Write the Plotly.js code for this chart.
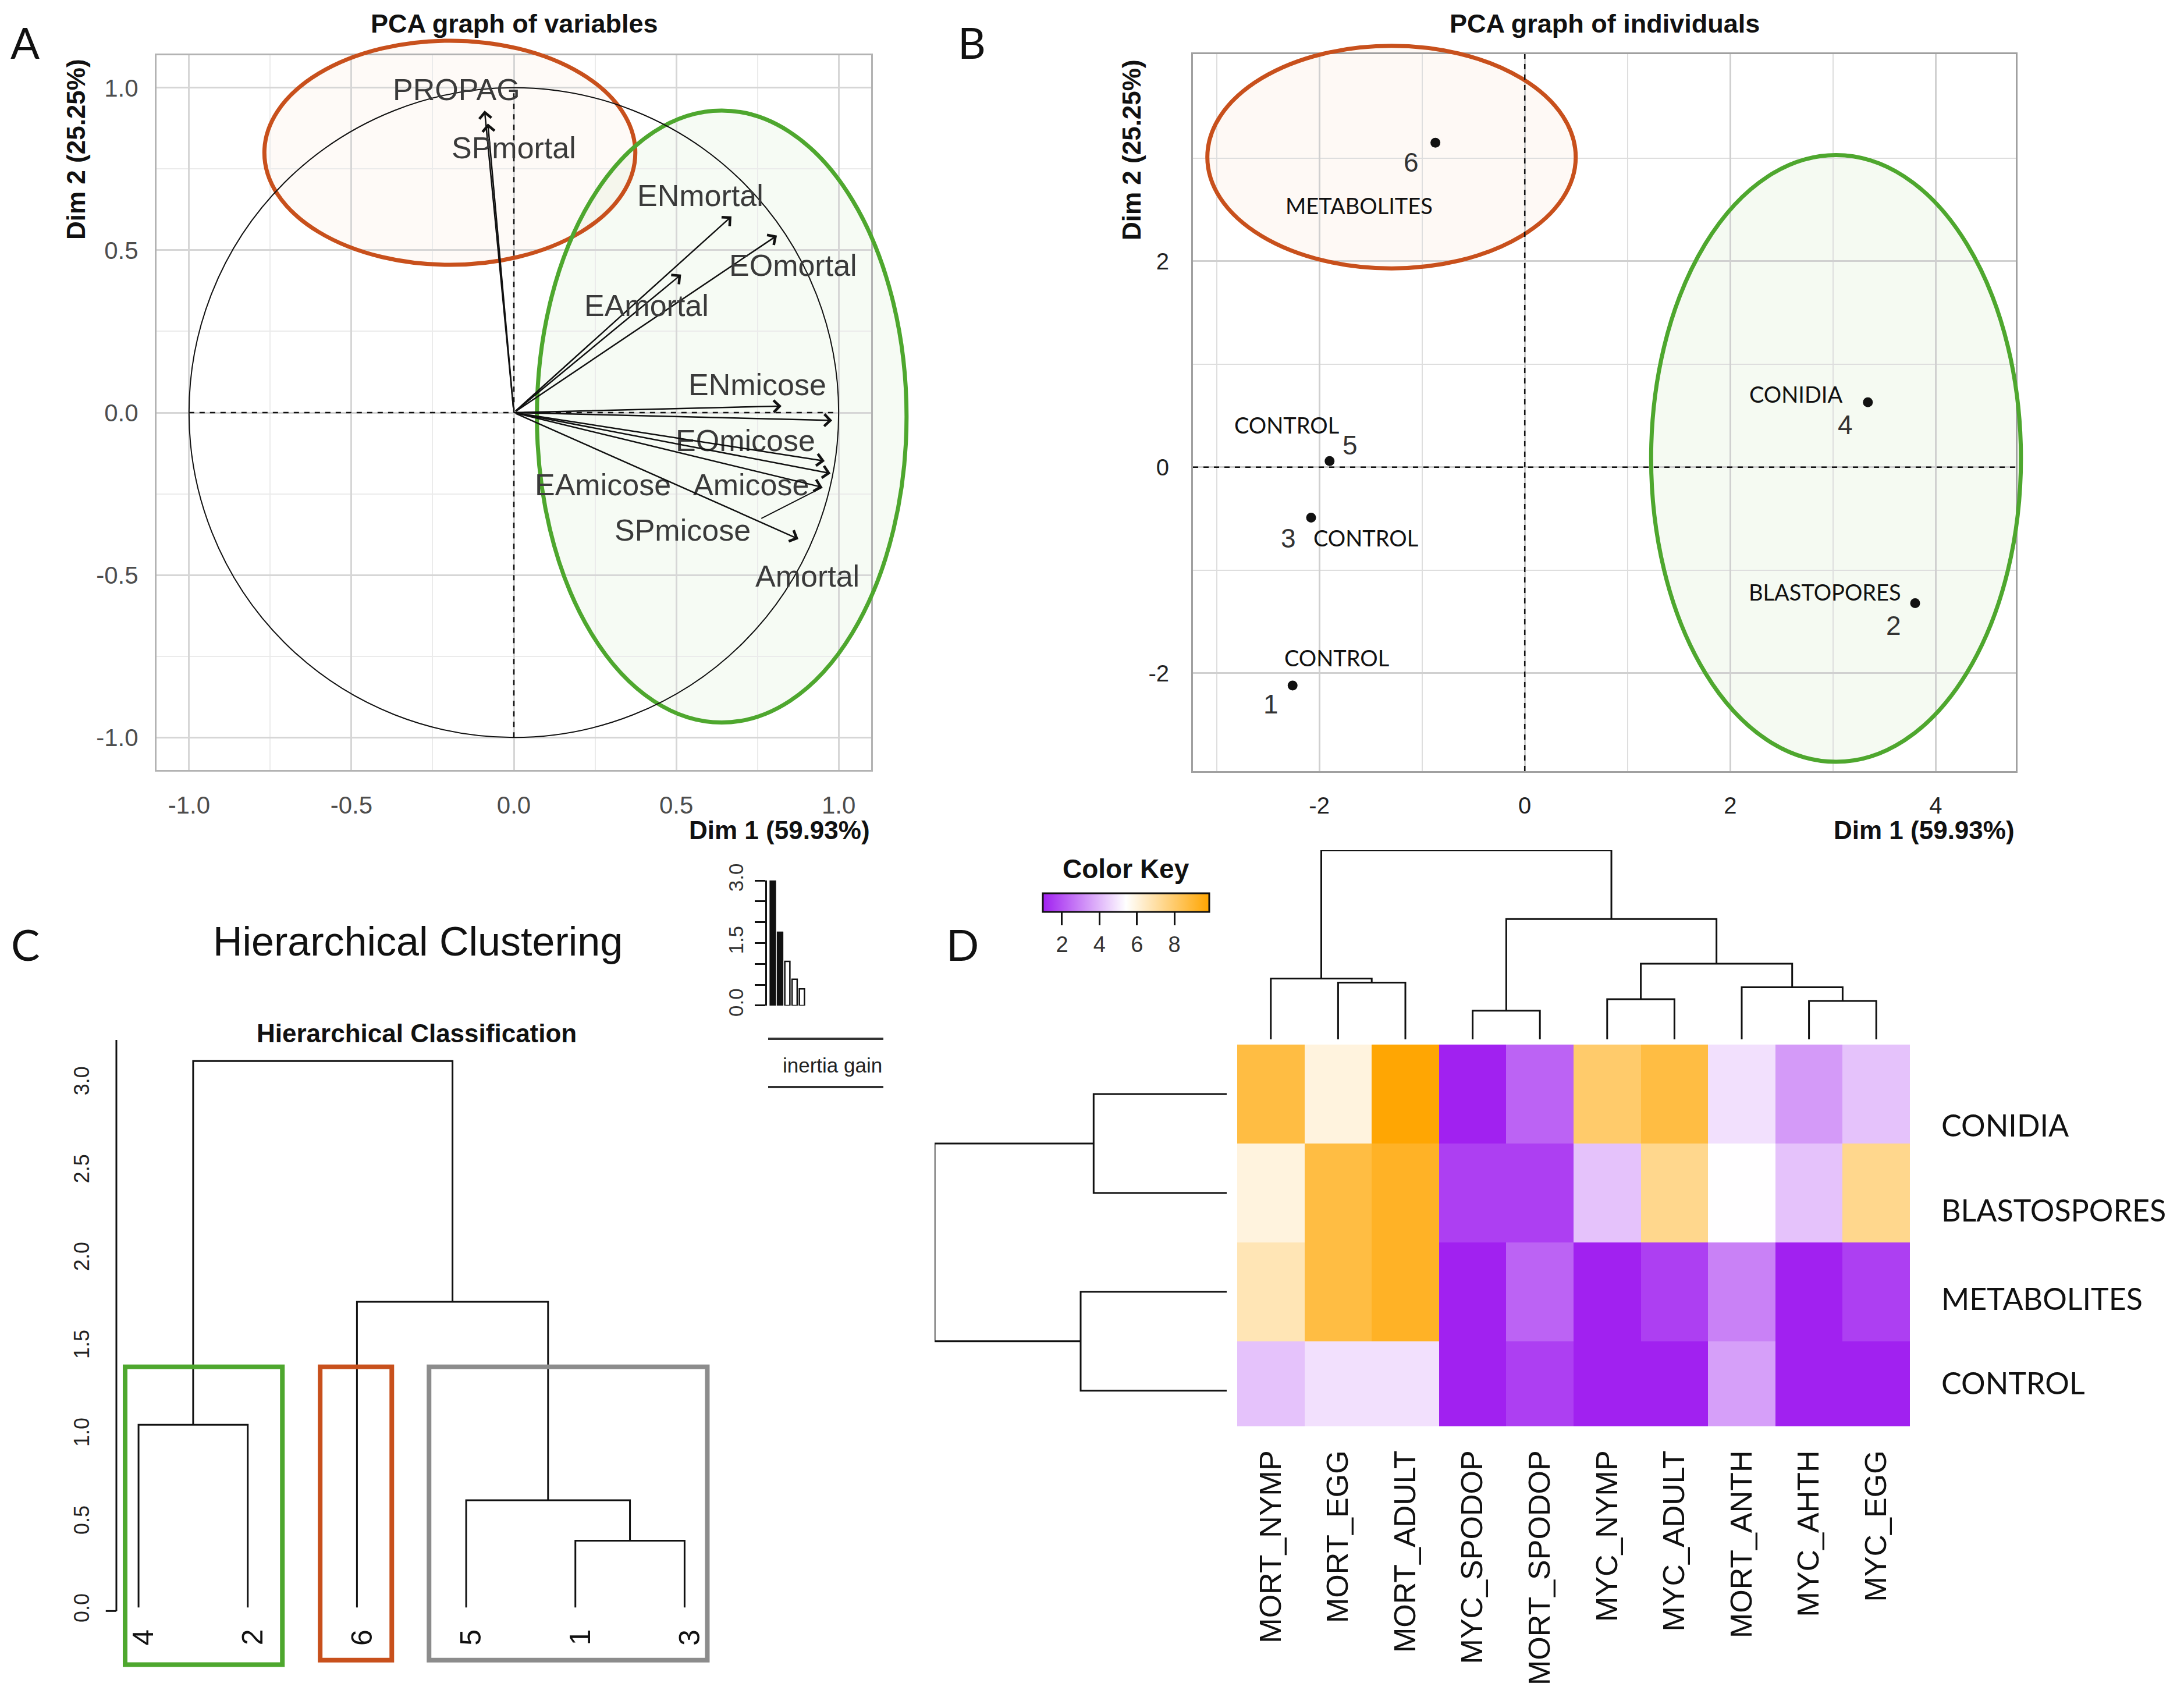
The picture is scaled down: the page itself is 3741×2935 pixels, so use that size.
<!DOCTYPE html>
<html><head><meta charset="utf-8">
<script src="https://cdn.plot.ly/plotly-3.0.1.min.js"></script>
<style>html,body{margin:0;padding:0;background:#fff}#chart{width:3741px;height:2935px}</style>
</head><body><div id="chart"></div>
<script>
// ================= DATA =================
// Panel A : PCA variables (coordinates on Dim 1 / Dim 2)
const varNames = ['PROPAG','SPmortal','ENmortal','EOmortal','EAmortal','ENmicose','EOmicose','EAmicose','Amicose','SPmicose','Amortal'];
const varDim1  = [-0.09, -0.08, 0.67, 0.81, 0.515, 0.824, 0.98, 0.957, 0.975, 0.95, 0.876];
const varDim2  = [0.93, 0.89, 0.604, 0.545, 0.425, 0.02, -0.024, -0.149, -0.187, -0.23, -0.389];
const tickA = [-1.0, -0.5, 0.0, 0.5, 1.0];
const tickALabels = ['-1.0', '-0.5', '0.0', '0.5', '1.0'];

// Panel B : PCA individuals
const indNames = ['1','2','3','4','5','6'];
const indDim1  = [-2.26, 3.80, -2.08, 3.34, -1.90, -0.87];
const indDim2  = [-2.12, -1.32, -0.49, 0.63, 0.06, 3.15];
const indGroup = ['CONTROL','BLASTOPORES','CONTROL','CONIDIA','CONTROL','METABOLITES'];
const tickBx = [-2, 0, 2, 4];
const tickBxLabels = ['-2', '0', '2', '4'];
const tickBy = [-2, 0, 2];
const tickByLabels = ['-2', '0', '2'];

// Panel C : hierarchical clustering (leaf order, merges as node indices, heights)
const leafOrder = ['4','2','6','5','1','3'];
const mergeLeft   = [4, 3, 0, 2, 8];
const mergeRight  = [5, 6, 1, 7, 9];
const mergeHeight = [0.40, 0.63, 1.06, 1.76, 3.13];
const inertiaGain = [3.13, 1.76, 1.06, 0.63, 0.40];
const tickC = [0, 0.5, 1.0, 1.5, 2.0, 2.5, 3.0];
const tickCLabels = ['0.0','0.5','1.0','1.5','2.0','2.5','3.0'];
const tickInertia = [0, 0.5, 1.0, 1.5, 2.0, 2.5, 3.0];
const tickInertiaLabels = ['0.0','','','1.5','','','3.0'];

// Panel D : heatmap
const heatCols = ['MORT_NYMP','MORT_EGG','MORT_ADULT','MYC_SPODOP','MORT_SPODOP','MYC_NYMP','MYC_ADULT','MORT_ANTH','MYC_AHTH','MYC_EGG'];
const heatRows = ['CONIDIA','BLASTOSPORES','METABOLITES','CONTROL'];
const heatConidia      = [8.7, 6.0, 9.8, 1.0, 2.3, 8.0, 8.7, 4.8, 3.4, 4.2];
const heatBlastospores = [6.0, 8.7, 9.2, 1.6, 1.6, 4.2, 7.4, 5.4, 4.2, 7.4];
const heatMetabolites  = [6.7, 8.7, 9.2, 1.0, 2.3, 1.0, 1.6, 2.9, 1.0, 1.6];
const heatControl      = [4.2, 4.8, 4.8, 1.0, 1.6, 1.0, 1.0, 3.5, 1.0, 1.0];
const colMergeLeft   = [1, 0, 3, 5, 8, 7, 13, 12, 11];
const colMergeRight  = [2, 10, 4, 6, 9, 14, 15, 16, 17];
const colMergeHeight = [99, 106, 50, 70, 67, 91, 132, 210, 330];
const rowMergeLeft   = [0, 2, 4];
const rowMergeRight  = [1, 3, 5];
const rowMergeHeight = [164, 180, 360];
const keyTicks = [2, 4, 6, 8];

// ================= STYLE / LAYOUT =================
const W = 3741, H = 2935;
const ARIAL = 'Liberation Sans, Arial, sans-serif';
const CAL = 'Lato, Open Sans, sans-serif';
const px = v => v / W, py = v => 1 - v / H;

const dom = {
  A: {x:[px(269), px(1497)], y:[py(1323), py(95)], rx:[-1.1, 1.1], ry:[-1.1, 1.1]},
  B: {x:[px(2050), px(3464)], y:[py(1325), py(93)], rx:[-3.23, 4.78], ry:[-2.95, 4.01]}
};
function toPaper(d, x, y) {
  return [d.x[0] + (x - d.rx[0]) / (d.rx[1] - d.rx[0]) * (d.x[1] - d.x[0]),
          d.y[0] + (y - d.ry[0]) / (d.ry[1] - d.ry[0]) * (d.y[1] - d.y[0])];
}

// label offsets (pixels) relative to the arrow head / point / row
const varLabelShift = [[-48,36],[45,-42],[-53,36],[28,-51],[-59,-53],[-41,37],[-149,-35],[-381,-41],[-137,-20],[-240,-74],[16,-64]];
const numShift = [[-37,-32],[-37,-39],[-39,-35],[-39,-39],[35,27],[-42,-34]];
const groupShift = [[76,48],[-155,19],[94,-34],[-124,14],[-74,62],[-131,-108]];
const rowLabelShift = [-53, -29, -11, 14];

function dendro(n, L, R, Hh, leafH) {
  const pos = [], ht = [], xs = [], ys = [];
  for (let i = 0; i < n; i++) { pos.push(i); ht.push(leafH); }
  for (let k = 0; k < L.length; k++) {
    const a = L[k], b = R[k], h = Hh[k];
    xs.push(pos[a], pos[a], pos[b], pos[b], null);
    ys.push(ht[a], h, h, ht[b], null);
    pos.push((pos[a] + pos[b]) / 2); ht.push(h);
  }
  return {xs, ys};
}

const traces = [];
const shapes = [];
const annotations = [];

// ---------- Panel A ----------
function ellipse(d, cx, cy, rx, ry, color, fill) {
  const p0 = toPaper(d, cx - rx, cy - ry), p1 = toPaper(d, cx + rx, cy + ry);
  shapes.push({type:'circle', xref:'paper', yref:'paper', x0:p0[0], x1:p1[0], y0:p0[1], y1:p1[1],
    fillcolor:fill, line:{width:0}, layer:'below'});
  shapes.push({type:'circle', xref:'paper', yref:'paper', x0:p0[0], x1:p1[0], y0:p0[1], y1:p1[1],
    line:{color:color, width:7}, layer:'above'});
}
ellipse(dom.A, -0.197, 0.80, 0.571, 0.345, '#c8501c', 'rgba(240,150,90,0.05)');
ellipse(dom.A, 0.64, -0.012, 0.569, 0.942, '#4ea72e', 'rgba(110,185,70,0.06)');
shapes.push({type:'circle', xref:'x', yref:'y', x0:-1, x1:1, y0:-1, y1:1, line:{color:'#111', width:2}});
shapes.push({type:'line', xref:'x', yref:'y', x0:-1, x1:1, y0:0, y1:0, line:{color:'#111', width:2.5, dash:'dash'}});
shapes.push({type:'line', xref:'x', yref:'y', x0:0, x1:0, y0:-1, y1:1, line:{color:'#111', width:2.5, dash:'dash'}});

varNames.forEach((nm, i) => {
  annotations.push({xref:'x', yref:'y', axref:'x', ayref:'y', x:varDim1[i], y:varDim2[i], ax:0, ay:0,
    text:' ', showarrow:true, arrowhead:4, arrowsize:1.6, arrowwidth:2.5, arrowcolor:'#111', standoff:0});
  annotations.push({xref:'x', yref:'y', x:varDim1[i], y:varDim2[i], text:nm, showarrow:false,
    xshift:varLabelShift[i][0], yshift:varLabelShift[i][1], font:{family:ARIAL, size:52, color:'#3a3a3a'}});
});
// connector segment for SPmicose label
annotations.push({xref:'x', yref:'y', x:varDim1[9], y:varDim2[9], ax:-108, ay:55, text:' ',
  showarrow:true, arrowhead:0, arrowwidth:2, arrowcolor:'#111', standoff:0});
traces.push({type:'scatter', mode:'markers', x:varDim1, y:varDim2, marker:{size:1, opacity:0}, hoverinfo:'skip', xaxis:'x', yaxis:'y'});

annotations.push({xref:'paper', yref:'paper', x:px(883), y:py(41), text:'<b>PCA graph of variables</b>', showarrow:false, font:{family:ARIAL, size:45, color:'#111'}});
annotations.push({xref:'paper', yref:'paper', x:px(1497), y:py(1427), xanchor:'right', text:'<b>Dim 1 (59.93%)</b>', showarrow:false, font:{family:ARIAL, size:44, color:'#111'}});
annotations.push({xref:'paper', yref:'paper', x:px(131), y:py(257), textangle:-90, text:'<b>Dim 2 (25.25%)</b>', showarrow:false, font:{family:ARIAL, size:44, color:'#111'}});

// ---------- Panel B ----------
ellipse(dom.B, -1.297, 3.01, 1.793, 1.08, '#c8501c', 'rgba(240,150,90,0.06)');
ellipse(dom.B, 3.03, 0.085, 1.80, 2.945, '#4ea72e', 'rgba(110,185,70,0.07)');
shapes.push({type:'line', xref:'x2 domain', yref:'y2', x0:0, x1:1, y0:0, y1:0, line:{color:'#111', width:2.5, dash:'dash'}});
shapes.push({type:'line', xref:'x2', yref:'y2 domain', x0:0, x1:0, y0:0, y1:1, line:{color:'#111', width:2.5, dash:'dash'}});
traces.push({type:'scatter', mode:'markers', x:indDim1, y:indDim2, text:indNames, marker:{size:17, color:'#111'},
  hoverinfo:'text', xaxis:'x2', yaxis:'y2'});
indNames.forEach((nm, i) => {
  annotations.push({xref:'x2', yref:'y2', x:indDim1[i], y:indDim2[i], text:nm, showarrow:false,
    xshift:numShift[i][0], yshift:numShift[i][1], font:{family:ARIAL, size:46, color:'#333'}});
  annotations.push({xref:'x2', yref:'y2', x:indDim1[i], y:indDim2[i], text:indGroup[i], showarrow:false,
    xshift:groupShift[i][0], yshift:groupShift[i][1], font:{family:CAL, size:38, color:'#111'}});
});
annotations.push({xref:'paper', yref:'paper', x:px(2757), y:py(41), text:'<b>PCA graph of individuals</b>', showarrow:false, font:{family:ARIAL, size:45, color:'#111'}});
annotations.push({xref:'paper', yref:'paper', x:px(3464), y:py(1427), xanchor:'right', text:'<b>Dim 1 (59.93%)</b>', showarrow:false, font:{family:ARIAL, size:44, color:'#111'}});
annotations.push({xref:'paper', yref:'paper', x:px(1945), y:py(257), textangle:-90, text:'<b>Dim 2 (25.25%)</b>', showarrow:false, font:{family:ARIAL, size:44, color:'#111'}});

// ---------- Panel C ----------
const dC = dendro(leafOrder.length, mergeLeft, mergeRight, mergeHeight, 0.02);
traces.push({type:'scatter', mode:'lines', x:dC.xs.map(v => v === null ? null : v + 1), y:dC.ys,
  line:{color:'#111', width:3}, hoverinfo:'skip', xaxis:'x3', yaxis:'y3'});
leafOrder.forEach((nm, i) => {
  annotations.push({xref:'x3', yref:'y3', x:i + 1, y:-0.15, text:nm, textangle:-90, showarrow:false,
    xshift:8, font:{family:ARIAL, size:50, color:'#111'}});
});
const rectsC = [[0.877, 2.317, -0.305, 1.39, '#4ea72e'], [2.663, 3.319, -0.28, 1.39, '#c8501c'], [3.66, 6.208, -0.28, 1.39, '#8c8c8c']];
rectsC.forEach(r => shapes.push({type:'rect', xref:'x3', yref:'y3', x0:r[0], x1:r[1], y0:r[2], y1:r[3], line:{color:r[4], width:8}}));
shapes.push({type:'line', xref:'x3', yref:'y3', x0:0.797, x1:0.797, y0:0, y1:3.25, line:{color:'#111', width:3}});
shapes.push({type:'line', xref:'x3', yref:'y3', x0:0.70, x1:0.797, y0:0, y1:0, line:{color:'#111', width:3}});
annotations.push({xref:'paper', yref:'paper', x:px(716), y:py(1775), text:'<b>Hierarchical Classification</b>', showarrow:false, font:{family:ARIAL, size:44, color:'#111'}});
annotations.push({xref:'paper', yref:'paper', x:px(718), y:py(1618), text:'Hierarchical Clustering', showarrow:false, font:{family:ARIAL, size:70, color:'#111'}});

traces.push({type:'bar', x:[1,2,3,4,5], y:inertiaGain, width:0.7, cliponaxis:false,
  marker:{color:['#111','#111','#fff','#fff','#fff'], line:{color:'#111', width:2.5}},
  hoverinfo:'y', xaxis:'x4', yaxis:'y4'});
shapes.push({type:'line', xref:'paper', yref:'paper', x0:px(1320), x1:px(1518), y0:py(1785), y1:py(1785), line:{color:'#333', width:4}});
shapes.push({type:'line', xref:'paper', yref:'paper', x0:px(1320), x1:px(1518), y0:py(1868), y1:py(1868), line:{color:'#333', width:4}});
annotations.push({xref:'paper', yref:'paper', x:px(1430), y:py(1830), text:'inertia gain', showarrow:false, font:{family:ARIAL, size:35, color:'#222'}});

// ---------- Panel D ----------
traces.push({type:'heatmap', z:[heatConidia, heatBlastospores, heatMetabolites, heatControl],
  x:heatCols.map((c, i) => i), y:heatRows.map((r, i) => i),
  colorscale:[[0, '#A020F0'], [0.5, '#FFFFFF'], [1, '#FFA500']], zmin:0.975, zmax:9.86,
  xaxis:'x5', yaxis:'y5', hoverinfo:'z',
  colorbar:{orientation:'h', x:px(1792), xanchor:'left', y:py(1535), yanchor:'top', len:286, lenmode:'pixels',
    thickness:32, thicknessmode:'pixels', xpad:0, ypad:0, outlinewidth:3, outlinecolor:'#111',
    ticks:'outside', ticklen:22, tickwidth:3, tickcolor:'#111', tickvals:keyTicks,
    tickfont:{family:ARIAL, size:38, color:'#333'}}});
heatRows.forEach((nm, i) => {
  annotations.push({xref:'paper', yref:'y5', x:px(3334), y:i, xanchor:'left', text:nm, showarrow:false,
    yshift:rowLabelShift[i], font:{family:CAL, size:52, color:'#111'}});
});
const dCol = dendro(heatCols.length, colMergeLeft, colMergeRight, colMergeHeight, 0);
traces.push({type:'scatter', mode:'lines', x:dCol.xs, y:dCol.ys, line:{color:'#111', width:3}, hoverinfo:'skip', xaxis:'x6', yaxis:'y6'});
const dRow = dendro(heatRows.length, rowMergeLeft, rowMergeRight, rowMergeHeight, 0);
traces.push({type:'scatter', mode:'lines', x:dRow.ys, y:dRow.xs, line:{color:'#111', width:3}, hoverinfo:'skip', xaxis:'x7', yaxis:'y7'});
annotations.push({xref:'paper', yref:'paper', x:px(1935), y:py(1493), text:'<b>Color Key</b>', showarrow:false, font:{family:ARIAL, size:46, color:'#111'}});

// panel letters
[['A',43,72],['B',1670,72],['C',43,1622],['D',1654,1622]].forEach(l => annotations.push({xref:'paper', yref:'paper', x:px(l[1]), y:py(l[2]), text:l[0], showarrow:false, font:{family:CAL, size:74, color:'#111'}}));

annotations.forEach(a => { if (!a.xanchor) a.xanchor = 'center'; if (!a.yanchor) a.yanchor = 'middle'; });

const hid = {visible:false, fixedrange:true};
const layout = {
  width:W, height:H, margin:{l:0, r:0, t:0, b:0}, paper_bgcolor:'#fff', plot_bgcolor:'rgba(0,0,0,0)',
  showlegend:false, font:{family:ARIAL, color:'#111'}, bargap:0,
  xaxis:{domain:dom.A.x, range:dom.A.rx, anchor:'y', tickmode:'array', tickvals:tickA, ticktext:tickALabels,
    showgrid:true, gridcolor:'#d6d6d6', gridwidth:3, zeroline:false, showline:true, mirror:true, linecolor:'#b3b3b3', linewidth:3,
    minor:{tickmode:'linear', tick0:-0.75, dtick:0.5, showgrid:true, gridcolor:'#ebebeb', gridwidth:2},
    tickfont:{family:ARIAL, size:42, color:'#4d4d4d'}, ticklabelstandoff:22, fixedrange:true},
  yaxis:{domain:dom.A.y, range:dom.A.ry, anchor:'x', tickmode:'array', tickvals:tickA, ticktext:tickALabels,
    showgrid:true, gridcolor:'#d6d6d6', gridwidth:3, zeroline:false, showline:true, mirror:true, linecolor:'#b3b3b3', linewidth:3,
    minor:{tickmode:'linear', tick0:-0.75, dtick:0.5, showgrid:true, gridcolor:'#ebebeb', gridwidth:2},
    tickfont:{family:ARIAL, size:42, color:'#4d4d4d'}, ticklabelstandoff:20, fixedrange:true},
  xaxis2:{domain:dom.B.x, range:dom.B.rx, anchor:'y2', tickmode:'array', tickvals:tickBx, ticktext:tickBxLabels,
    showgrid:true, gridcolor:'#d0d0d0', gridwidth:3, zeroline:false, showline:true, mirror:true, linecolor:'#a0a0a0', linewidth:3,
    minor:{tickmode:'linear', tick0:-3, dtick:2, showgrid:true, gridcolor:'#dedede', gridwidth:2},
    tickfont:{family:ARIAL, size:40, color:'#222'}, ticklabelstandoff:22, fixedrange:true},
  yaxis2:{domain:dom.B.y, range:dom.B.ry, anchor:'x2', tickmode:'array', tickvals:tickBy, ticktext:tickByLabels,
    showgrid:true, gridcolor:'#d0d0d0', gridwidth:3, zeroline:false, showline:true, mirror:true, linecolor:'#a0a0a0', linewidth:3,
    minor:{tickmode:'linear', tick0:-1, dtick:2, showgrid:true, gridcolor:'#dedede', gridwidth:2},
    tickfont:{family:ARIAL, size:40, color:'#222'}, ticklabelstandoff:30, fixedrange:true},
  xaxis3:Object.assign({domain:[px(163), px(1289)], range:[0.6, 6.6], anchor:'y3'}, hid),
  yaxis3:{domain:[py(2874), py(1772)], range:[-0.35, 3.3], anchor:'x3', tickmode:'array', tickvals:tickC, ticktext:tickCLabels,
    tickangle:-90, showgrid:false, zeroline:false, showline:false, ticks:'', tickfont:{family:ARIAL, size:36, color:'#222'},
    ticklabelstandoff:2, fixedrange:true},
  xaxis4:Object.assign({domain:[px(1318), px(1393)], range:[0.2, 6.2], anchor:'y4'}, hid),
  yaxis4:{domain:[py(1728), py(1513)], range:[-0.001, 3.001], anchor:'x4', tickmode:'array', tickvals:tickInertia, ticktext:tickInertiaLabels,
    tickangle:-90, showgrid:false, zeroline:false, showline:true, linecolor:'#111', linewidth:3, ticks:'outside', ticklen:18, tickwidth:3, tickcolor:'#111',
    tickfont:{family:ARIAL, size:35, color:'#333'}, ticklabelstandoff:6, fixedrange:true},
  xaxis5:{domain:[px(2126), px(3282)], range:[-0.5, 9.5], anchor:'y5', tickmode:'array', tickvals:heatCols.map((c, i) => i), ticktext:heatCols,
    tickangle:-90, showgrid:false, zeroline:false, showline:false, ticks:'', tickfont:{family:ARIAL, size:52, color:'#111'},
    ticklabelstandoff:30, fixedrange:true},
  yaxis5:{domain:[py(2451), py(1795)], range:[3.36, -0.5], anchor:'x5', showticklabels:false,
    showgrid:false, zeroline:false, showline:false, ticks:'', fixedrange:true},
  xaxis6:Object.assign({domain:[px(2126), px(3282)], range:[-0.5, 9.5], anchor:'y6'}, hid),
  yaxis6:Object.assign({domain:[py(1786), py(1461)], range:[0, 330], anchor:'x6'}, hid),
  xaxis7:Object.assign({domain:[px(1606), px(2108)], range:[360, 0], anchor:'y7'}, hid),
  yaxis7:Object.assign({domain:[py(2451), py(1795)], range:[3.36, -0.5], anchor:'x7'}, hid),
  shapes:shapes, annotations:annotations
};
Plotly.newPlot('chart', traces, layout, {displayModeBar:false, staticPlot:true});
</script></body></html>
